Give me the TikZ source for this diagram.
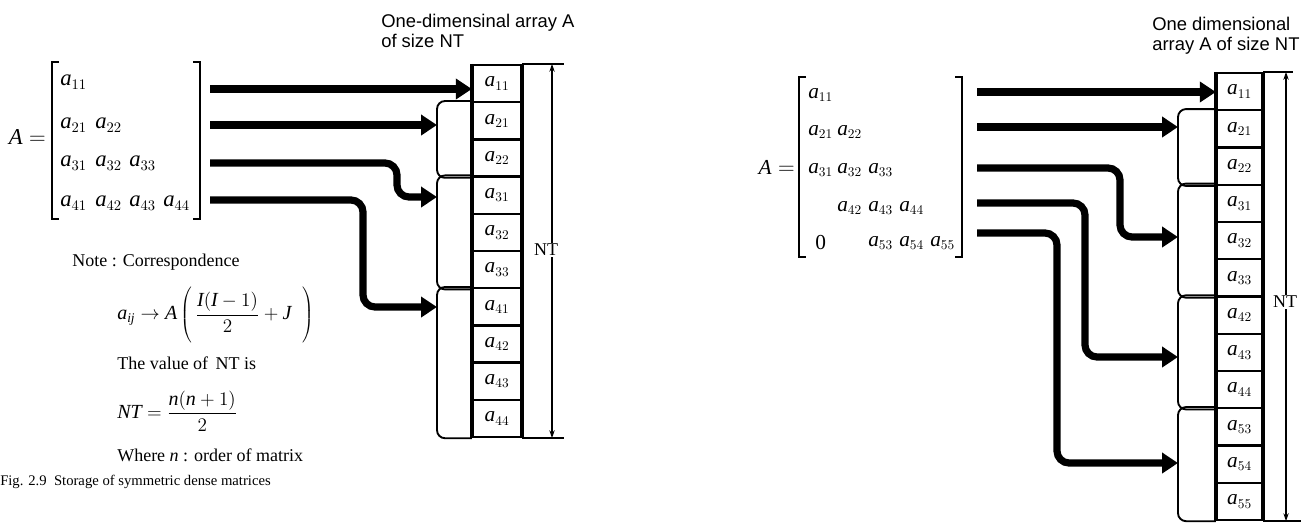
\documentclass[tikz,border=0pt]{standalone}
\usepackage{fontspec}
\setmainfont{Liberation Serif}
\setsansfont{Liberation Sans}
\DeclareSymbolFont{letters}{TU}{\rmdefault}{m}{it}
\DeclareMathSizes{17}{17}{10.5}{8}
\DeclareMathSizes{16}{16}{10}{7.5}
\DeclareMathSizes{15}{15}{10}{7.5}
\DeclareMathSizes{13.5}{13.5}{9.5}{7}
\usetikzlibrary{arrows.meta,calc}
\tikzset{
  fatarrow/.style={line width=5.4pt, rounded corners=9pt, -{Triangle[length=12pt,width=15pt]}},
  cellL/.style={draw, line width=1.8pt, minimum width=36pt, minimum height=27.9pt, inner sep=0pt, font=\fontsize{16}{18}\selectfont},
  cellR/.style={cellL, minimum width=33.75pt},
  grp/.style={line width=1.4pt, rounded corners=6pt},
  dimline/.style={line width=1.6pt},
  dimarrow/.style={line width=1.1pt, {Stealth[length=6pt,width=4pt]}-{Stealth[length=6pt,width=4pt]}},
  bracketline/.style={line width=0.9pt},
  entL/.style={anchor=west, inner sep=0pt, font=\fontsize{17}{20}\selectfont},
  entR/.style={anchor=west, inner sep=0pt, font=\fontsize{16}{18}\selectfont},
  titletext/.style={anchor=base west, inner sep=0pt, font=\sffamily\fontsize{13.8}{16}\selectfont},
  notetext/.style={anchor=west, inner sep=0pt, font=\fontsize{13.5}{16}\selectfont},
  formula/.style={anchor=west, inner sep=0pt, font=\fontsize{15}{18}\selectfont},
  ntlabel/.style={fill=white, inner sep=1pt, font=\fontsize{13.5}{16}\selectfont}
}
\begin{document}
\begin{tikzpicture}[x=0.75pt,y=-0.75pt]
\useasboundingbox (0,0) rectangle (1312,522);

% ================= LEFT DIAGRAM =================
\node[entL, anchor=east] (AL) at (46,137) {$A=$};
\draw[bracketline] (59,62) -- (52,62) -- (52,219) -- (59,219);
\draw[bracketline] (193,62) -- (200,62) -- (200,219) -- (193,219);
\node[entL] (mL11) at (60,82) {$a_{11}$};
\node[entL] (mL21) at (60,125) {$a_{21}$};
\node[entL] (mL22) at (95,125) {$a_{22}$};
\node[entL] (mL31) at (60,163) {$a_{31}$};
\node[entL] (mL32) at (95,163) {$a_{32}$};
\node[entL] (mL33) at (129,163) {$a_{33}$};
\node[entL] (mL41) at (60,203) {$a_{41}$};
\node[entL] (mL42) at (95,203) {$a_{42}$};
\node[entL] (mL43) at (129,203) {$a_{43}$};
\node[entL] (mL44) at (163,203) {$a_{44}$};

\foreach \i/\lab in {1/11,2/21,3/22,4/31,5/32,6/33,7/41,8/42,9/43,10/44}
  \node[cellL] (L\i) at (497,{65+37.2*(\i-0.5)}) {$a_{\lab}$};
\draw[line width=3pt] (L1.north east) -- (L10.south east);
\draw[line width=2.2pt] (L1.north west) -- (L10.south west);

\coordinate (bL) at (437,0);
\draw[grp] (L2.north west) -| (bL |- L3.south west) -- (L3.south west);
\draw[grp] (L4.north west) -| (bL |- L6.south west) -- (L6.south west);
\draw[grp] (L7.north west) -| (bL |- L10.south west) -- (L10.south west);

\coordinate (sL1) at (210,89);
\coordinate (sL2) at (210,125);
\coordinate (sL3) at (210,163);
\coordinate (sL4) at (210,200);
\coordinate (kL3) at (397,197);
\coordinate (kL4) at (363,307);
\draw[fatarrow] (sL1) -- (sL1 -| L1.west);
\draw[fatarrow] (sL2) -- (sL2 -| bL);
\draw[fatarrow] (sL3) -| (kL3) -- (kL3 -| bL);
\draw[fatarrow] (sL4) -| (kL4) -- (kL4 -| bL);

\coordinate (ntxL) at (552,0);
\draw[dimline] (L1.north east) -- ++(42,0);
\draw[dimline] (L10.south east) -- ++(42,0);
\draw[dimarrow] (L1.north east -| ntxL) -- (L10.south east -| ntxL);
\node[ntlabel] (ntL) at (546,250) {NT};

\node[titletext] (titleL1) at (381,27) {One-dimensinal array A};
\node[titletext] (titleL2) at (381,47) {of size NT};

\node[notetext] (note1) at (72,262) {Note : Correspondence};
\node[formula] (note2) at (117,316) {$a_{ij}\rightarrow A\left(\rule[-19pt]{0pt}{38pt}\,{\displaystyle\frac{I\bigl(I-1\bigr)}{2}}+J\;\;\right)$};
\node[notetext] (note3) at (117,363) {The value of\, NT is};
\node[formula] (note4) at (117,411) {$NT={\displaystyle\frac{n\bigl(n+1\bigr)}{2}}$};
\node[notetext] (note5) at (117,455) {Where $n$ : order of matrix};
\node[notetext, font=\fontsize{11}{13}\selectfont] (cap) at (0,482) {Fig. 2.9\enspace Storage of symmetric dense matrices};

% ================= RIGHT DIAGRAM =================
\node[entR, anchor=east] (AR) at (795,167) {$A=$};
\draw[bracketline] (806,77) -- (799,77) -- (799,257) -- (806,257);
\draw[bracketline] (955,77) -- (962,77) -- (962,257) -- (955,257);
\node[entR] (mR11) at (808,95) {$a_{11}$};
\node[entR] (mR21) at (808,132) {$a_{21}$};
\node[entR] (mR22) at (837,132) {$a_{22}$};
\node[entR] (mR31) at (808,170) {$a_{31}$};
\node[entR] (mR32) at (837,170) {$a_{32}$};
\node[entR] (mR33) at (868,170) {$a_{33}$};
\node[entR] (mR42) at (837,208) {$a_{42}$};
\node[entR] (mR43) at (868,208) {$a_{43}$};
\node[entR] (mR44) at (899,208) {$a_{44}$};
\node[entR] (mR0) at (815,243) {0};
\node[entR] (mR53) at (868,243) {$a_{53}$};
\node[entR] (mR54) at (899,243) {$a_{54}$};
\node[entR] (mR55) at (930,243) {$a_{55}$};

\foreach \i/\lab in {1/11,2/21,3/22,4/31,5/32,6/33,7/42,8/43,9/44,10/53,11/54,12/55}
  \node[cellR] (R\i) at (1239.5,{73+37.25*(\i-0.5)}) {$a_{\lab}$};
\draw[line width=3pt] (R1.north east) -- (R12.south east);
\draw[line width=2.2pt] (R1.north west) -- (R12.south west);

\coordinate (bR) at (1178,0);
\draw[grp] (R2.north west) -| (bR |- R3.south west) -- (R3.south west);
\draw[grp] (R4.north west) -| (bR |- R6.south west) -- (R6.south west);
\draw[grp] (R7.north west) -| (bR |- R9.south west) -- (R9.south west);
\draw[grp] (R10.north west) -| (bR |- R12.south west) -- (R12.south west);

\coordinate (sR1) at (977,92);
\coordinate (sR2) at (977,127);
\coordinate (sR3) at (977,168);
\coordinate (sR4) at (977,203);
\coordinate (sR5) at (977,233);
\coordinate (kR3) at (1120,237);
\coordinate (kR4) at (1085,357);
\coordinate (kR5) at (1057,463);
\draw[fatarrow] (sR1) -- (sR1 -| R1.west);
\draw[fatarrow] (sR2) -- (sR2 -| bR);
\draw[fatarrow] (sR3) -| (kR3) -- (kR3 -| bR);
\draw[fatarrow] (sR4) -| (kR4) -- (kR4 -| bR);
\draw[fatarrow] (sR5) -| (kR5) -- (kR5 -| bR);

\coordinate (ntxR) at (1286,0);
\draw[dimline] (R1.north east) -- ++(30,0);
\draw[dimline] (R12.south east) -- ++(38,0);
\draw[dimarrow] (R1.north east -| ntxR) -- (R12.south east -| ntxR);
\node[ntlabel] (ntR) at (1285,302) {NT};

\node[titletext] (titleR1) at (1152,30) {One dimensional};
\node[titletext] (titleR2) at (1152,50) {array A of size NT};
\end{tikzpicture}
\end{document}
